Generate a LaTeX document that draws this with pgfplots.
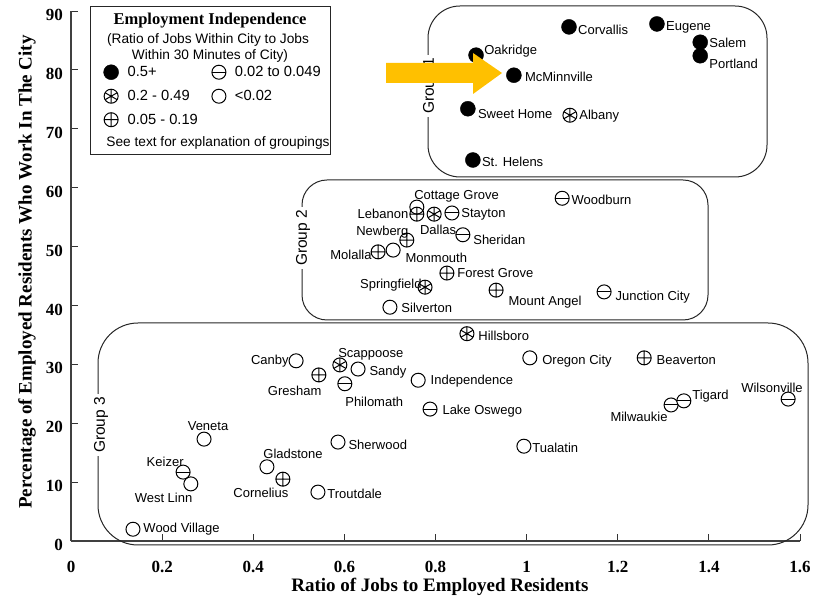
\documentclass[border=0pt]{standalone}
\usepackage{fontspec}
\setmainfont{Liberation Serif}
\setsansfont{Liberation Sans}
\usepackage{graphicx}
\usepackage{pgfplots}
\pgfplotsset{compat=1.18}
\usetikzlibrary{calc}
\definecolor{gold}{RGB}{255,192,0}
\newcommand{\lab}{\sffamily\fontsize{13bp}{15bp}\selectfont}

\pgfdeclareplotmark{ominus}{%
  \pgfpathcircle{\pgfpointorigin}{\pgfplotmarksize}\pgfusepathqfillstroke
  \pgfpathmoveto{\pgfqpoint{-\pgfplotmarksize}{0pt}}%
  \pgfpathlineto{\pgfqpoint{\pgfplotmarksize}{0pt}}\pgfusepathqstroke}
\pgfdeclareplotmark{ostar}{%
  \pgfpathcircle{\pgfpointorigin}{\pgfplotmarksize}\pgfusepathqfillstroke
  \pgfpathmoveto{\pgfpointpolar{90}{\pgfplotmarksize}}\pgfpathlineto{\pgfpointpolar{270}{\pgfplotmarksize}}%
  \pgfpathmoveto{\pgfpointpolar{30}{\pgfplotmarksize}}\pgfpathlineto{\pgfpointpolar{210}{\pgfplotmarksize}}%
  \pgfpathmoveto{\pgfpointpolar{150}{\pgfplotmarksize}}\pgfpathlineto{\pgfpointpolar{330}{\pgfplotmarksize}}%
  \pgfusepathqstroke}

\pgfplotsset{
  lbl/.style={
    only marks,
    point meta=explicit symbolic,
    nodes near coords,
    visualization depends on={value \thisrow{anc} \as \anc},
    visualization depends on={\thisrow{dx} \as \dx},
    visualization depends on={\thisrow{dy} \as \dy},
    every node near coord/.append style={anchor=\anc, xshift=\dx bp, yshift=\dy bp, inner sep=0pt, font=\lab, text=black},
  },
}

\begin{document}
\begin{tikzpicture}
\begin{axis}[
  scale only axis, width=729bp, height=530bp,
  xmin=0, xmax=1.6, ymin=0, ymax=90,
  axis x line=bottom, axis y line=left,
  axis line style={-, black!75, line width=1.3bp},
  xtick={0,0.2,0.4,0.6,0.8,1,1.2,1.4,1.6},
  ytick={0,10,20,30,40,50,60,70,80,90},
  tick align=inside, major tick length=7bp,
  every tick/.style={black!80, line width=0.8bp},
  tick label style={font=\bfseries\fontsize{17bp}{19bp}\selectfont},
  /pgf/number format/assume math mode=true,
  xticklabel style={inner sep=0pt, anchor=north, yshift=-20bp},
  yticklabel style={inner sep=0pt, anchor=east, xshift=-8bp, yshift=-4bp},
  xlabel={Ratio of Jobs to Employed Residents},
  ylabel={Percentage of Employed Residents Who Work In The City},
  label style={font=\bfseries\fontsize{19bp}{21bp}\selectfont},
  xlabel style={at={(axis description cs:0.506,-0.087)}, anchor=center},
  ylabel style={at={(axis description cs:-0.0604,0.5075)}, anchor=center},
  clip=false,
  legend style={at={(axis description cs:0.0445,0.8990)}, anchor=north west,
    draw=none, fill=none, inner sep=0pt,
    font=\sffamily\fontsize{14.7bp}{16bp}\selectfont,
    row sep=9.5bp,
    /tikz/column 1/.style={column sep=8bp},
    /tikz/column 2/.style={column sep=13bp},
    /tikz/column 3/.style={column sep=8bp},
    nodes={inner sep=1bp}},
  legend columns=2,
  legend cell align=left,
  legend image code/.code={\draw[#1] plot coordinates {(0bp,0bp)};},
]
\addlegendimage{mark=*, mark size=7.5bp, draw=black, fill=black}
\addlegendentry{0.5+}
\addlegendimage{mark=ominus, mark size=7bp, draw=black, fill=white, line width=1bp}
\addlegendentry{0.02 to 0.049}
\addlegendimage{mark=ostar, mark size=7bp, draw=black, fill=white, line width=1bp}
\addlegendentry{0.2 - 0.49}
\addlegendimage{mark=o, mark size=7bp, draw=black, fill=white, line width=1bp}
\addlegendentry{<0.02}
\addlegendimage{mark=oplus, mark size=7bp, draw=black, fill=white, line width=1bp}
\addlegendentry{0.05 - 0.19}

% < 0.02
\addplot[lbl, forget plot, mark=o, mark size=7bp, mark options={draw=black, fill=white, line width=1bp}]
table[col sep=comma, row sep=\\, meta=name] {
x,y,name,anc,dx,dy\\
0.759,56.7,Cottage Grove,west,-3,11\\
0.707,49.4,Monmouth,west,12,-8\\
0.700,39.7,Silverton,west,11,-1\\
0.494,30.6,Canby,east,-7,0\\
0.630,29.2,Sandy,west,11,-3\\
0.762,27.3,Independence,west,12,-1\\
1.007,31.1,Oregon City,west,12,-3\\
0.292,17.3,Veneta,center,4,13\\
0.586,16.8,Sherwood,west,10,-3\\
0.994,16.1,Tualatin,west,8,-2\\
0.263,9.7,West Linn,east,2,-14\\
0.430,12.6,Gladstone,west,-4,13\\
0.542,8.3,Troutdale,west,9,-2\\
0.136,2.0,Wood Village,west,10,0\\
};
% 0.02 to 0.049
\addplot[lbl, forget plot, mark=ominus, mark size=7bp, mark options={draw=black, fill=white, line width=1bp}]
table[col sep=comma, row sep=\\, meta=name] {
x,y,name,anc,dx,dy\\
0.836,55.7,Stayton,west,9,-1\\
1.078,58.2,Woodburn,west,9,-2\\
0.860,52.0,Sheridan,west,10,-5\\
1.170,42.3,Junction City,west,11,-5\\
0.601,26.7,Philomath,west,0,-18\\
0.788,22.4,Lake Oswego,west,12,-2\\
0.246,11.7,Keizer,east,1,10\\
1.317,23.1,Milwaukie,east,-3,-12\\
1.345,23.8,Tigard,west,8,5\\
1.574,24.1,Wilsonville,east,15,11\\
};
% 0.05 - 0.19
\addplot[lbl, forget plot, mark=oplus, mark size=7bp, mark options={draw=black, fill=white, line width=1bp}]
table[col sep=comma, row sep=\\, meta=name] {
x,y,name,anc,dx,dy\\
0.759,55.5,Lebanon,east,-8,0\\
0.737,51.1,Newberg,east,2,8\\
0.674,49.1,Molalla,east,-6,-3\\
0.825,45.5,Forest Grove,west,10,0\\
0.933,42.6,Mount Angel,west,12,-12\\
0.544,28.2,Gresham,east,3,-16\\
0.465,10.5,Cornelius,east,6,-14\\
1.258,31.1,Beaverton,west,12,-2\\
};
% 0.2 - 0.49
\addplot[lbl, forget plot, mark=ostar, mark size=7bp, mark options={draw=black, fill=white, line width=1bp}]
table[col sep=comma, row sep=\\, meta=name] {
x,y,name,anc,dx,dy\\
1.095,72.3,Albany,west,9,-1\\
0.797,55.5,Dallas,center,4,-16\\
0.777,43.1,Springfield,east,-3,2\\
0.590,29.9,Scappoose,west,-2,11\\
0.869,35.2,Hillsboro,west,11,-2\\
};
% 0.5+
\addplot[lbl, forget plot, mark=*, mark size=7.5bp, mark options={draw=black, fill=black}]
table[col sep=comma, row sep=\\, meta=name] {
x,y,name,anc,dx,dy\\
1.093,87.3,Corvallis,west,9,-3\\
1.286,87.8,Eugene,west,9,-3\\
1.381,84.7,Salem,west,9,-1\\
1.381,82.4,Portland,west,9,-8\\
0.889,82.5,Oakridge,west,8,4\\
0.972,79.1,McMinnville,west,11,-2\\
0.871,73.4,Sweet Home,west,10,-5\\
0.882,64.7,St. Helens,west,9,-2\\
};
\end{axis}

\begin{scope}[x=1bp, y=-1bp, shift={($(current axis.south west)+(-71bp,541bp)$)}]
  % group boxes
  \draw[line width=1bp, black!85, rounded corners=32bp] (428,6) rectangle (767,177);
  \draw[line width=1bp, black!85, rounded corners=25bp] (302,180) rectangle (708,320);
  \draw[line width=1bp, black!85, rounded corners=40bp] (98,323) rectangle (808,545);
  \node[rotate=90, fill=white, inner sep=3bp, font=\sffamily\fontsize{15.5bp}{17bp}\selectfont] at (430,86) {Group 1};
  \node[rotate=90, fill=white, inner sep=3bp, font=\sffamily\fontsize{15.5bp}{17bp}\selectfont] at (303,238) {Group 2};
  \node[rotate=90, fill=white, inner sep=3bp, font=\sffamily\fontsize{15.5bp}{17bp}\selectfont] at (101,425) {Group 3};
  % arrow
  \fill[gold] (386,63) -- (473,63) -- (473,53) -- (502,73) -- (473,94) -- (473,83) -- (386,83) -- cycle;
  % legend frame and texts
  \draw[line width=0.9bp, black!85] (90,6) rectangle (330,154);
  \node[font=\rmfamily\bfseries\fontsize{16.5bp}{18bp}\selectfont] at (210,21) {Employment Independence};
  \node[font=\sffamily\fontsize{13.7bp}{15bp}\selectfont] at (208,40) {(Ratio of Jobs Within City to Jobs};
  \node[font=\sffamily\fontsize{13.7bp}{15bp}\selectfont] at (210,56) {Within 30 Minutes of City)};
  \node[font=\sffamily\fontsize{13.7bp}{15bp}\selectfont] at (218,143) {See text for explanation of groupings};
  \pgfresetboundingbox
  \useasboundingbox (0,0) rectangle (815,599);
\end{scope}
\end{tikzpicture}
\end{document}
